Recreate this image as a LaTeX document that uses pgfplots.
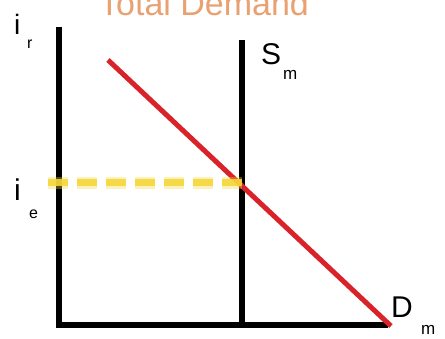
\documentclass[border=0pt]{standalone}
\usepackage{pgfplots}
\pgfplotsset{compat=1.18}
\usepackage{fontspec}
\setmainfont{Liberation Sans}
\definecolor{titleor}{HTML}{E9A172}
\definecolor{dred}{HTML}{D8232A}
\definecolor{yel}{HTML}{F4D63A}
\begin{document}
\begin{tikzpicture}
\begin{axis}[
  scale only axis, width=445pt, height=339pt,
  xmin=0, xmax=445, ymin=0, ymax=339,
  hide axis, clip=false,
]
% axes
\addplot[black, line width=6pt, line cap=butt] coordinates {(59,312) (59,11)};
\addplot[black, line width=6pt, line cap=butt] coordinates {(56,14) (388,14)};
% supply
\addplot[black, line width=6pt, line cap=butt] coordinates {(242,299) (242,11)};
% demand
\addplot[dred, line width=5pt] coordinates {(108,279) (391,13)};
% equilibrium rate
\addplot[yel, line width=12pt, opacity=0.35, dash pattern=on 20pt off 9pt] coordinates {(48,156) (246,156)};
\addplot[yel, line width=7pt, opacity=0.9, dash pattern=on 20pt off 9pt] coordinates {(48,156) (246,156)};
% labels
\node[anchor=base, text=titleor, font=\fontsize{34}{40}\selectfont] at (axis cs:204,323) {Total Demand};
\node[anchor=base west, inner sep=0pt, font=\fontsize{28}{32}\selectfont] at (axis cs:14,304) {i};
\node[anchor=base west, inner sep=0pt, font=\fontsize{16}{18}\selectfont] at (axis cs:27,290) {r};
\node[anchor=base west, inner sep=0pt, font=\fontsize{30}{34}\selectfont] at (axis cs:14,138) {i};
\node[anchor=base west, inner sep=0pt, font=\fontsize{16}{18}\selectfont] at (axis cs:29,120) {e};
\node[anchor=base west, inner sep=0pt, font=\fontsize{30}{34}\selectfont] at (axis cs:261,274) {S};
\node[anchor=base west, inner sep=0pt, font=\fontsize{17}{20}\selectfont] at (axis cs:283,259) {m};
\node[anchor=base west, inner sep=0pt, font=\fontsize{30}{34}\selectfont] at (axis cs:391,21) {D};
\node[anchor=base west, inner sep=0pt, font=\fontsize{17}{20}\selectfont] at (axis cs:421,4) {m};
\end{axis}
\pgfresetboundingbox
\path[use as bounding box] (current axis.south west) rectangle (current axis.north east);
\end{tikzpicture}
\end{document}
